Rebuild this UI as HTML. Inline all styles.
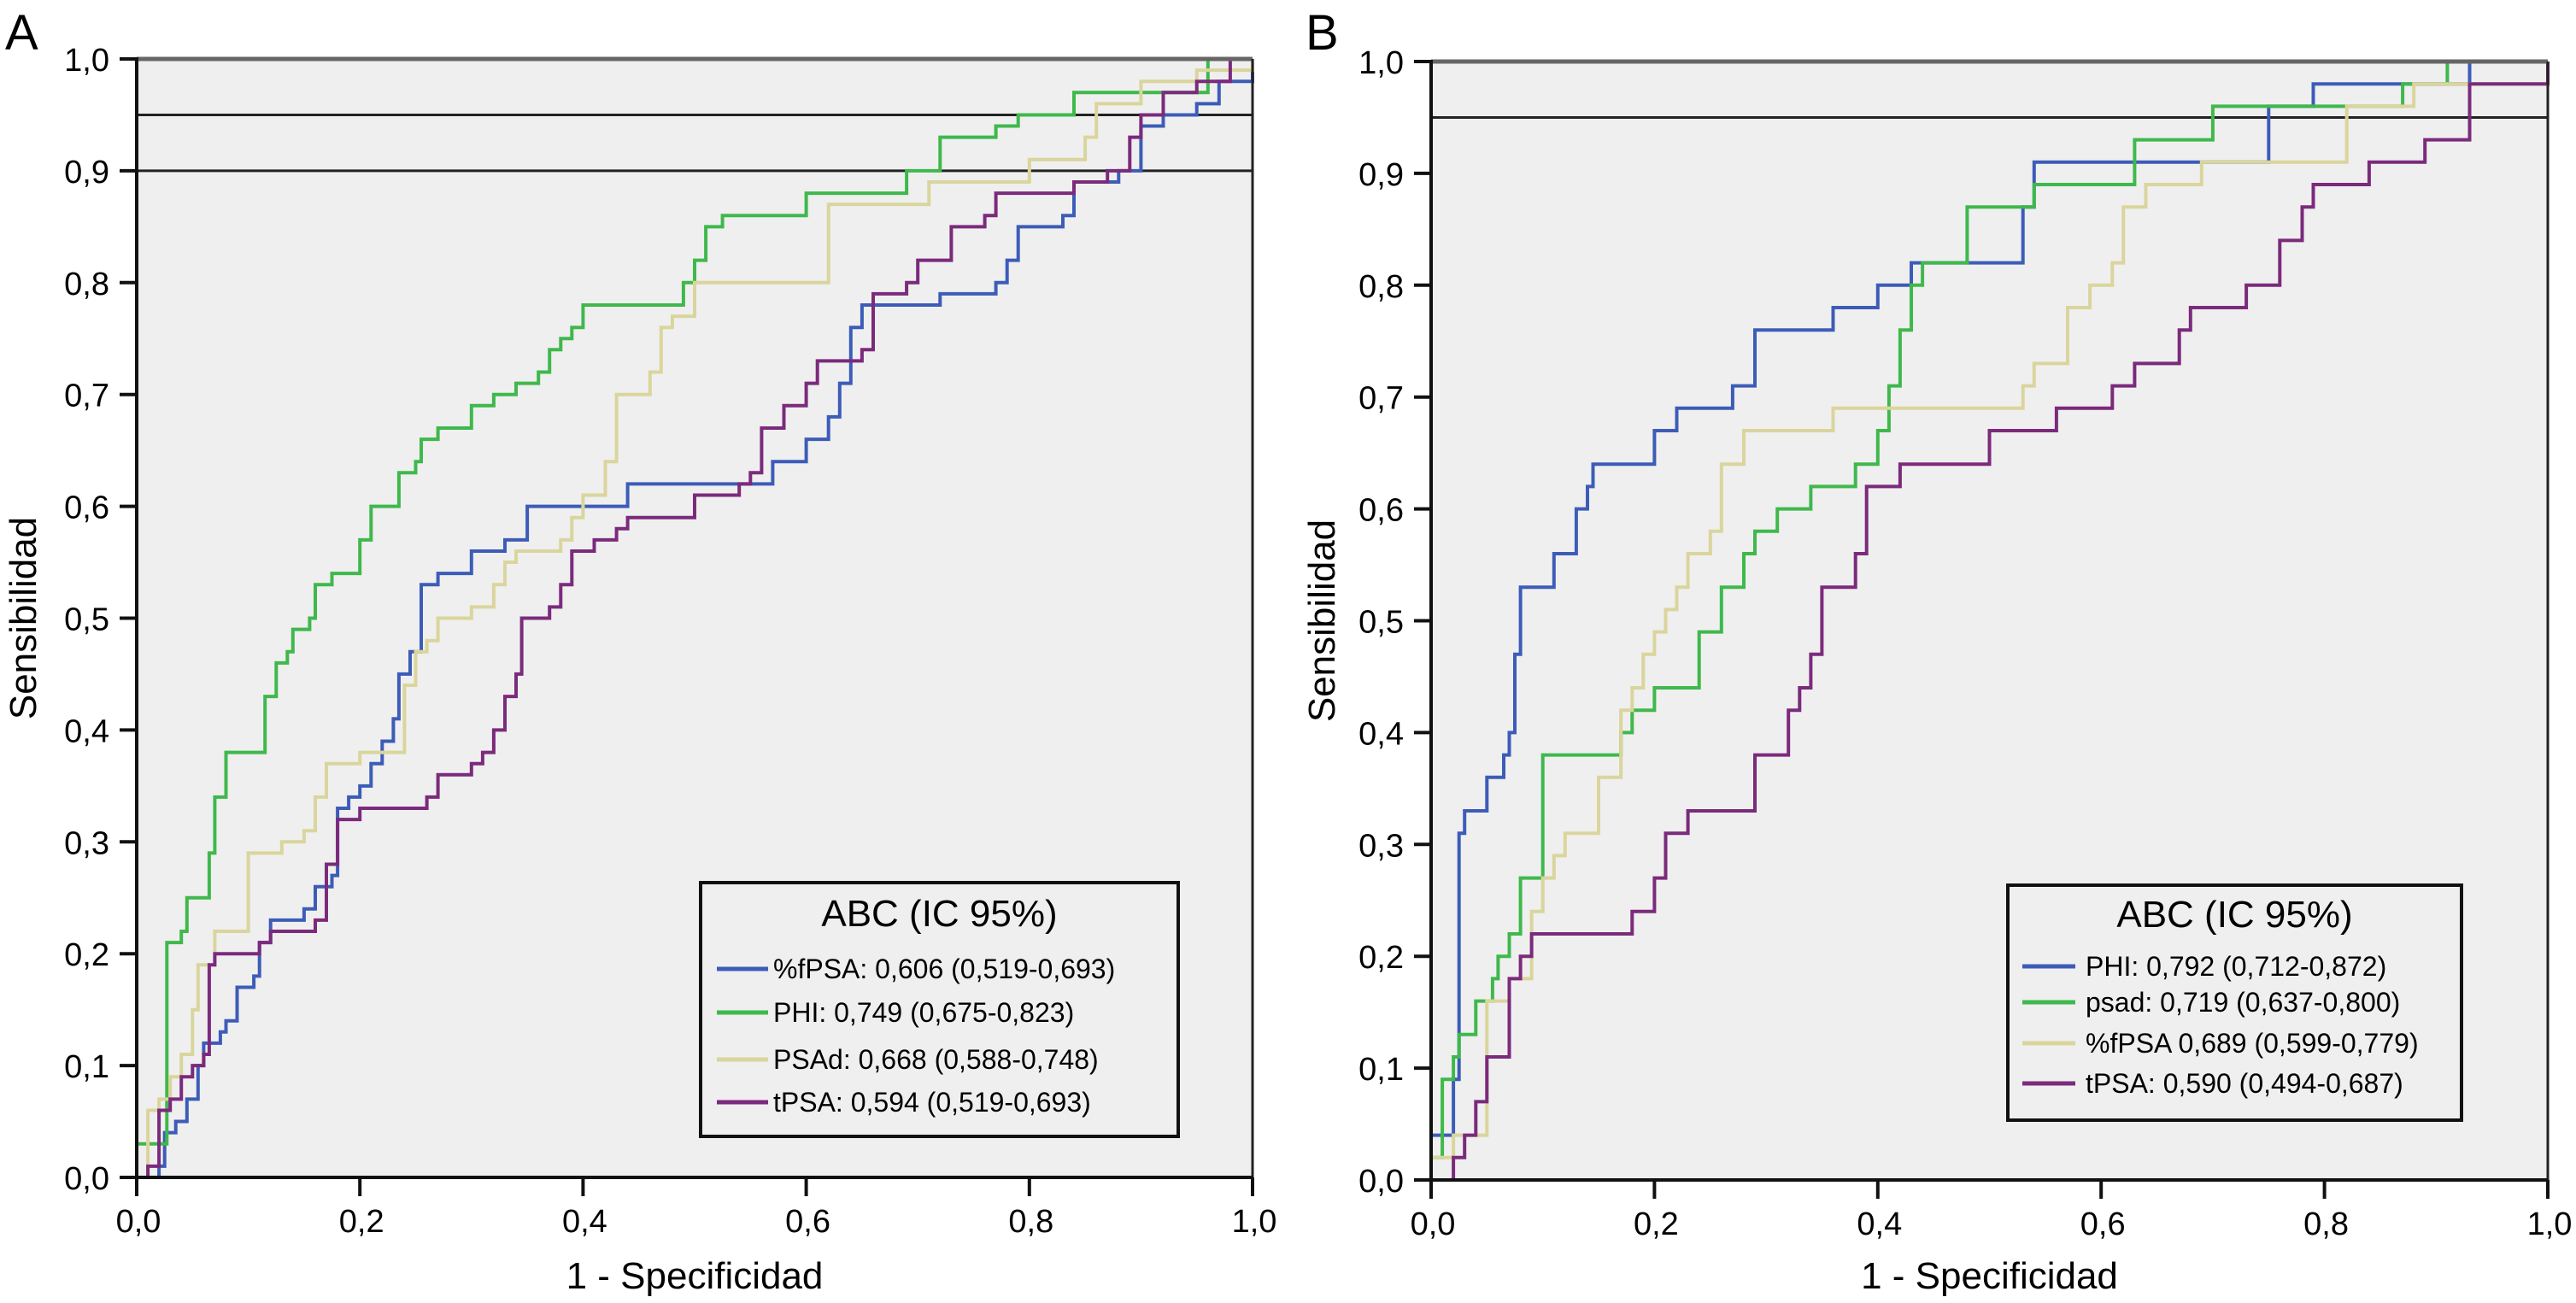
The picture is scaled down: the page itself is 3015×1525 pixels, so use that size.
<!DOCTYPE html>
<html><head><meta charset="utf-8"><style>
html,body{margin:0;padding:0;background:#fff;}
svg{display:block;font-family:"Liberation Sans",Arial,sans-serif;}
</style></head><body>
<svg id="fig" width="3015" height="1525" viewBox="0 0 3015 1525"></svg>
<script>
// ---- Panel A data ----
const aLabels = ["%fPSA: 0,606 (0,519-0,693)","PHI: 0,749 (0,675-0,823)","PSAd: 0,668 (0,588-0,748)","tPSA: 0,594 (0,519-0,693)"];
const aColors = ["#3d5cb8","#3fb84c","#dad59c","#7b2a7c"];
const aFpsa = [[0,0],[0.01,0],[0.02,0.01],[0.025,0.04],[0.035,0.05],[0.045,0.07],[0.055,0.1],[0.06,0.12],[0.075,0.13],[0.08,0.14],[0.09,0.17],[0.105,0.18],[0.11,0.21],[0.12,0.23],[0.15,0.24],[0.16,0.26],[0.175,0.27],[0.18,0.33],[0.19,0.34],[0.2,0.35],[0.21,0.37],[0.22,0.39],[0.23,0.41],[0.235,0.45],[0.245,0.47],[0.255,0.53],[0.27,0.54],[0.3,0.56],[0.33,0.57],[0.35,0.6],[0.43,0.6],[0.44,0.62],[0.55,0.62],[0.57,0.64],[0.6,0.66],[0.62,0.68],[0.63,0.71],[0.64,0.76],[0.65,0.78],[0.71,0.78],[0.72,0.79],[0.77,0.8],[0.78,0.82],[0.79,0.85],[0.83,0.86],[0.84,0.89],[0.88,0.9],[0.9,0.94],[0.92,0.95],[0.95,0.96],[0.97,0.98],[1,0.99]];
const aPhi = [[0,0],[0,0.03],[0.025,0.03],[0.027,0.21],[0.04,0.22],[0.045,0.25],[0.06,0.25],[0.065,0.29],[0.07,0.34],[0.08,0.38],[0.11,0.38],[0.115,0.43],[0.125,0.46],[0.135,0.47],[0.14,0.49],[0.155,0.5],[0.16,0.53],[0.175,0.54],[0.2,0.55],[0.2,0.57],[0.21,0.6],[0.23,0.6],[0.235,0.63],[0.25,0.64],[0.255,0.66],[0.27,0.67],[0.3,0.69],[0.32,0.7],[0.34,0.71],[0.36,0.72],[0.37,0.74],[0.38,0.75],[0.39,0.76],[0.4,0.78],[0.48,0.78],[0.49,0.8],[0.5,0.82],[0.51,0.85],[0.525,0.86],[0.6,0.88],[0.69,0.9],[0.72,0.93],[0.77,0.94],[0.79,0.95],[0.84,0.97],[0.96,0.98],[0.96,1],[1,1]];
const aPsad = [[0,0],[0.01,0.06],[0.02,0.07],[0.03,0.09],[0.04,0.11],[0.05,0.15],[0.055,0.19],[0.07,0.22],[0.09,0.22],[0.1,0.29],[0.13,0.3],[0.15,0.31],[0.16,0.34],[0.17,0.37],[0.2,0.38],[0.235,0.38],[0.24,0.44],[0.25,0.47],[0.26,0.48],[0.27,0.5],[0.3,0.51],[0.32,0.53],[0.33,0.55],[0.34,0.56],[0.38,0.57],[0.39,0.59],[0.4,0.61],[0.42,0.64],[0.43,0.7],[0.46,0.72],[0.47,0.76],[0.48,0.77],[0.5,0.8],[0.62,0.81],[0.62,0.87],[0.7,0.87],[0.71,0.89],[0.8,0.91],[0.85,0.93],[0.86,0.96],[0.9,0.98],[0.95,0.99],[1,1]];
const aTpsa = [[0,0],[0.01,0.01],[0.02,0.06],[0.03,0.07],[0.04,0.09],[0.05,0.1],[0.06,0.11],[0.065,0.19],[0.07,0.2],[0.11,0.21],[0.12,0.22],[0.16,0.23],[0.17,0.28],[0.18,0.32],[0.2,0.33],[0.26,0.34],[0.27,0.36],[0.3,0.37],[0.31,0.38],[0.32,0.4],[0.33,0.43],[0.34,0.45],[0.345,0.5],[0.37,0.51],[0.38,0.53],[0.39,0.56],[0.41,0.57],[0.43,0.58],[0.44,0.59],[0.5,0.6],[0.5,0.61],[0.54,0.62],[0.55,0.63],[0.56,0.67],[0.58,0.69],[0.6,0.71],[0.61,0.73],[0.65,0.74],[0.66,0.79],[0.69,0.8],[0.7,0.82],[0.73,0.83],[0.73,0.85],[0.76,0.86],[0.77,0.88],[0.84,0.89],[0.87,0.9],[0.89,0.93],[0.9,0.95],[0.92,0.97],[0.95,0.98],[0.98,1],[1,1]];
const aRefLines = [0.95,0.9];
// ---- Panel B data ----
const bLabels = ["PHI: 0,792 (0,712-0,872)","psad: 0,719 (0,637-0,800)","%fPSA 0,689 (0,599-0,779)","tPSA: 0,590 (0,494-0,687)"];
const bColors = ["#3d5cb8","#3fb84c","#dad59c","#7b2a7c"];
const bPhi = [[0,0],[0,0.04],[0.015,0.04],[0.02,0.09],[0.025,0.31],[0.03,0.33],[0.045,0.33],[0.05,0.36],[0.06,0.36],[0.065,0.38],[0.07,0.4],[0.075,0.47],[0.08,0.53],[0.11,0.53],[0.11,0.56],[0.13,0.56],[0.13,0.6],[0.14,0.62],[0.145,0.64],[0.2,0.64],[0.2,0.67],[0.22,0.67],[0.22,0.69],[0.27,0.69],[0.27,0.71],[0.29,0.71],[0.29,0.76],[0.36,0.76],[0.36,0.78],[0.4,0.78],[0.4,0.8],[0.43,0.8],[0.43,0.82],[0.53,0.82],[0.53,0.87],[0.54,0.87],[0.54,0.91],[0.75,0.91],[0.75,0.96],[0.79,0.96],[0.79,0.98],[0.93,0.98],[0.93,1],[1,1]];
const bPsad = [[0,0],[0,0.02],[0.01,0.09],[0.02,0.11],[0.025,0.13],[0.04,0.13],[0.04,0.16],[0.05,0.16],[0.055,0.18],[0.06,0.2],[0.07,0.22],[0.08,0.22],[0.08,0.27],[0.1,0.27],[0.1,0.38],[0.17,0.38],[0.17,0.4],[0.18,0.4],[0.18,0.42],[0.2,0.42],[0.2,0.44],[0.24,0.44],[0.24,0.49],[0.26,0.49],[0.26,0.53],[0.28,0.53],[0.28,0.56],[0.29,0.58],[0.31,0.58],[0.31,0.6],[0.34,0.6],[0.34,0.62],[0.38,0.62],[0.38,0.64],[0.4,0.64],[0.4,0.67],[0.41,0.67],[0.41,0.71],[0.42,0.71],[0.42,0.76],[0.43,0.76],[0.43,0.8],[0.44,0.82],[0.48,0.82],[0.48,0.87],[0.54,0.87],[0.54,0.89],[0.63,0.89],[0.63,0.93],[0.7,0.93],[0.7,0.96],[0.87,0.96],[0.87,0.98],[0.91,0.98],[0.91,1],[1,1]];
const bFpsa = [[0,0],[0,0.02],[0.02,0.02],[0.02,0.04],[0.05,0.04],[0.05,0.16],[0.07,0.16],[0.07,0.18],[0.09,0.2],[0.09,0.24],[0.1,0.27],[0.11,0.29],[0.12,0.31],[0.15,0.31],[0.15,0.36],[0.17,0.36],[0.17,0.42],[0.18,0.44],[0.19,0.47],[0.2,0.47],[0.2,0.49],[0.21,0.51],[0.22,0.53],[0.23,0.56],[0.25,0.56],[0.25,0.58],[0.26,0.58],[0.26,0.64],[0.28,0.64],[0.28,0.67],[0.36,0.67],[0.36,0.69],[0.53,0.69],[0.53,0.71],[0.54,0.71],[0.54,0.73],[0.57,0.73],[0.57,0.78],[0.59,0.78],[0.59,0.8],[0.61,0.8],[0.61,0.82],[0.62,0.87],[0.64,0.87],[0.64,0.89],[0.69,0.89],[0.69,0.91],[0.82,0.91],[0.82,0.96],[0.88,0.96],[0.88,0.98],[1,0.98],[1,1]];
const bTpsa = [[0,0],[0.02,0],[0.02,0.02],[0.03,0.02],[0.03,0.04],[0.04,0.07],[0.05,0.09],[0.05,0.11],[0.07,0.11],[0.07,0.18],[0.08,0.2],[0.09,0.22],[0.18,0.22],[0.18,0.24],[0.2,0.24],[0.2,0.27],[0.21,0.31],[0.22,0.31],[0.23,0.33],[0.28,0.33],[0.29,0.38],[0.31,0.38],[0.32,0.4],[0.32,0.42],[0.33,0.44],[0.34,0.47],[0.35,0.47],[0.35,0.53],[0.38,0.53],[0.38,0.56],[0.39,0.58],[0.39,0.62],[0.42,0.62],[0.42,0.64],[0.5,0.64],[0.5,0.67],[0.56,0.67],[0.56,0.69],[0.61,0.69],[0.61,0.71],[0.63,0.71],[0.63,0.73],[0.67,0.73],[0.67,0.76],[0.68,0.78],[0.73,0.78],[0.73,0.8],[0.76,0.8],[0.76,0.84],[0.78,0.84],[0.78,0.87],[0.79,0.87],[0.79,0.89],[0.84,0.89],[0.84,0.91],[0.89,0.91],[0.89,0.93],[0.93,0.93],[0.93,0.98],[0.96,0.98],[1,1]];
const bRefLines = [0.95];
const tickLabels = ["0,0","0,1","0,2","0,3","0,4","0,5","0,6","0,7","0,8","0,9","1,0"];
const xTickLabels = ["0,0","0,2","0,4","0,6","0,8","1,0"];

const NS="http://www.w3.org/2000/svg";
const svg=document.getElementById('fig');
function mk(tag,attrs,parent,text){const e=document.createElementNS(NS,tag);for(const k in attrs)e.setAttribute(k,attrs[k]);if(text!==undefined)e.textContent=text;(parent||svg).appendChild(e);return e;}

function panel(p){
  const g=mk('g',{});
  
  
  const X=v=>p.x0+v*(p.x1-p.x0), Y=v=>p.y0-v*(p.y0-p.y1);
  const bg=mk('rect',{x:p.x0,y:p.y1,width:p.x1-p.x0,height:p.y0-p.y1,fill:'#efefef'},g);
  
  const pl=mk('text',{x:p.lx,y:58,'font-size':58,fill:'#000'},g,p.id);
  
  p.refs.forEach(r=>{const l=mk('line',{x1:p.x0,x2:p.x1,y1:Y(r),y2:Y(r),stroke:'#222','stroke-width':3},g);
    });
  p.series.forEach((s,i)=>{
    let d='M'+X(s[0][0]).toFixed(1)+' '+Y(s[0][1]).toFixed(1);
    for(let j=1;j<s.length;j++){
      d+=' H'+X(s[j][0]).toFixed(1)+' V'+Y(s[j][1]).toFixed(1);
    }
    const path=mk('path',{d:d,fill:'none',stroke:p.colors[i],'stroke-width':4,'stroke-linejoin':'miter'},g);
    
    
  });
  mk('line',{x1:p.x0,x2:p.x1,y1:p.y1,y2:p.y1,stroke:'#666','stroke-width':5},g);
  mk('line',{x1:p.x1,x2:p.x1,y1:p.y1,y2:p.y0,stroke:'#222','stroke-width':3},g);
  const ax=mk('line',{x1:p.x0,x2:p.x0,y1:p.y1-2,y2:p.y0,stroke:'#111','stroke-width':4},g);
  
  const bx=mk('line',{x1:p.x0,x2:p.x1,y1:p.y0,y2:p.y0,stroke:'#111','stroke-width':4},g);
  
  tickLabels.forEach((t,i)=>{const v=i/10;
    mk('line',{x1:p.x0-20,x2:p.x0,y1:Y(v),y2:Y(v),stroke:'#111','stroke-width':4},g);
    const tx=mk('text',{x:p.x0-32,y:Y(v)+14,'font-size':38,'text-anchor':'end'},g,t);
    });
  xTickLabels.forEach((t,i)=>{const v=i/5;
    mk('line',{x1:X(v),x2:X(v),y1:p.y0,y2:p.y0+22,stroke:'#111','stroke-width':4},g);
    const tx=mk('text',{x:X(v)+2,y:p.y0+64,'font-size':38,'text-anchor':'middle'},g,t);
    });
  const yt=mk('text',{x:0,y:0,'font-size':44,'text-anchor':'middle',transform:`translate(${p.ytx},${(p.y0+p.y1)/2}) rotate(-90)`},g,'Sensibilidad');
  
  const xt=mk('text',{x:(p.x0+p.x1)/2,y:1508,'font-size':44,'text-anchor':'middle'},g,'1 - Specificidad');
  
  const L=p.leg;
  const lg=mk('g',{},g);
  
  mk('rect',{x:L.x,y:L.y,width:L.w,height:L.h,fill:'#efefef',stroke:'#111','stroke-width':4},lg);
  const lt=mk('text',{x:L.x+L.w/2,y:L.ty,'font-size':44,'text-anchor':'middle'},lg,'ABC (IC 95%)');
  
  p.labels.forEach((lab,i)=>{
    const e=mk('g',{},lg);
    
    mk('line',{x1:L.sx0,x2:L.sx1,y1:L.rows[i],y2:L.rows[i],stroke:p.colors[i],'stroke-width':5},e);
    mk('text',{x:L.tx,y:L.rows[i]+11,'font-size':32},e,lab);
  });
}
panel({id:'A',x0:160,x1:1466,y0:1378,y1:69,lx:6,ytx:42,refs:aRefLines,series:[aFpsa,aPhi,aPsad,aTpsa],colors:aColors,labels:aLabels,
  leg:{x:820,y:1033,w:559,h:297,ty:1084,rows:[1134,1185,1240,1290],sx0:839,sx1:899,tx:905}});
panel({id:'B',x0:1675,x1:2982,y0:1381,y1:72,lx:1528,ytx:1562,refs:bRefLines,series:[bPhi,bPsad,bFpsa,bTpsa],colors:bColors,labels:bLabels,
  leg:{x:2350,y:1036,w:531,h:275,ty:1085,rows:[1131,1173,1221,1268],sx0:2367,sx1:2429,tx:2441}});
</script>
</body></html>
